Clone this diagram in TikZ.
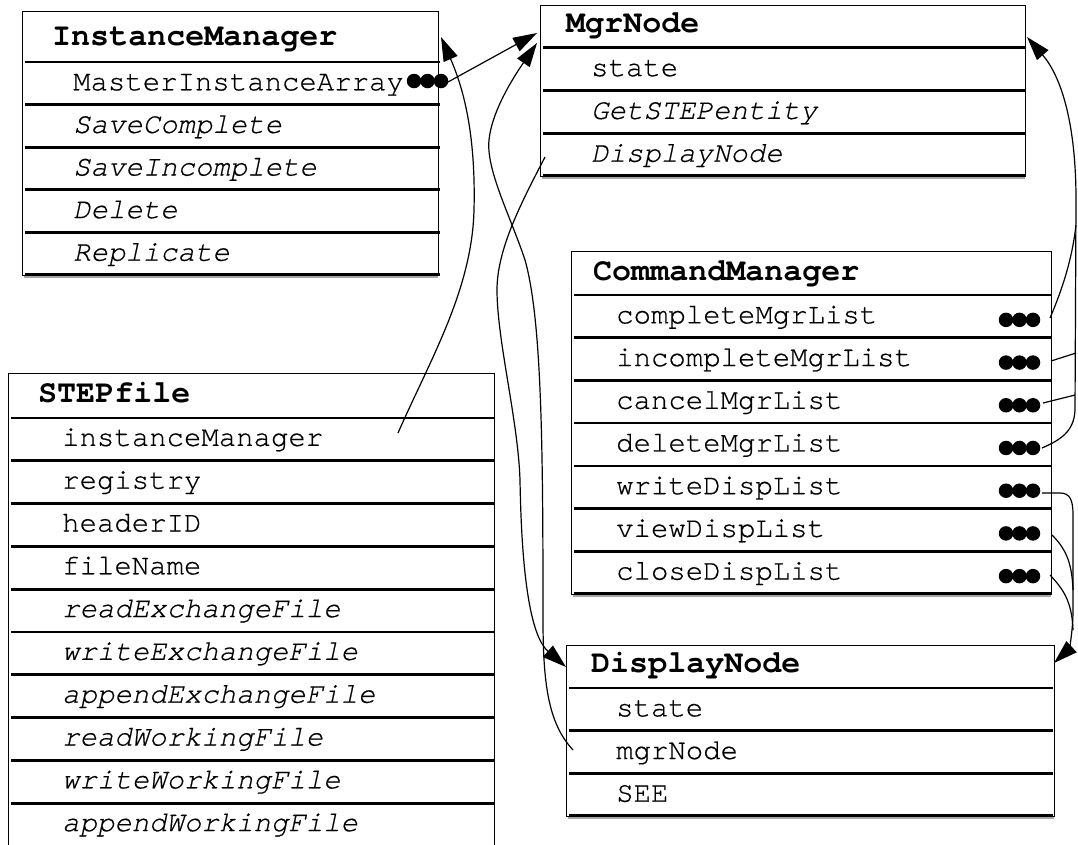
\documentclass[tikz,border=0pt]{standalone}
\usepackage{fontspec}
\newfontfamily\courrow{TeX Gyre Cursor}[Ligatures=NoCommon,FakeBold=0.5]
\newfontfamily\courhdr{TeX Gyre Cursor}[Ligatures=NoCommon]
\usetikzlibrary{arrows.meta}
\begin{document}
\begin{tikzpicture}[x=1pt,y=-1pt,
  outline/.style={draw=black, line width=1.4pt, rectangle, anchor=north west, inner sep=0pt},
  sepline/.style={line width=2.7pt},
  shadowline/.style={draw=gray!70, line width=1.6pt},
  conn/.style={line width=1.2pt},
  arr/.style={conn, -{Triangle[length=24pt,width=15pt]}},
  rowtxt/.style={font=\fontsize{29}{30}\selectfont\courrow, anchor=base west, inner sep=0pt},
  itxt/.style={font=\fontsize{29}{30}\selectfont\courrow\itshape, anchor=base west, inner sep=0pt},
  hdr/.style={font=\fontsize{31.7}{33}\selectfont\courhdr\bfseries, anchor=base west, inner sep=0pt},
  dotc/.style={fill=black, circle, inner sep=0pt, minimum size=14.5pt}
]
\useasboundingbox (0,0) rectangle (1078,844);
\clip (0,0) rectangle (1078,844);
\fill[white] (0,0) rectangle (1078,844);

% ---------- InstanceManager ----------
\node[outline, minimum width=416pt, minimum height=264pt] (IM) at (22,11) {};
\draw[shadowline] (24,276.8) -- (438,276.8);
\foreach \yy in {62,104.6,147.2,189.8,232.4,274.5} \draw[sepline] (25,\yy) -- (440,\yy);
\node[hdr] (IMh) at (52,45) {InstanceManager};
\node[rowtxt] (IM1) at (73,{62+0.5*42.6+7}) {MasterInstanceArray};
\foreach \t [count=\i from 2] in {SaveComplete,SaveIncomplete,Delete,Replicate}
  \node[itxt] (IM\i) at (73,{62+(\i-0.5)*42.6+7}) {\t};
\foreach \xx [count=\k] in {414,427.5,441} \node[dotc] (imd\k) at (\xx,81) {};

% ---------- MgrNode ----------
\node[outline, minimum width=485pt, minimum height=171pt] (MN) at (540,5) {};
\draw[shadowline] (542,177.8) -- (1025,177.8);
\foreach \yy in {47.7,90.5,133.3,175.5} \draw[sepline] (543,\yy) -- (1026,\yy);
\node[hdr] (MNh) at (566,32) {MgrNode};
\node[rowtxt] (MN1) at (591,{47.7+0.5*42.8+7}) {state};
\node[itxt] (MN2) at (591,{47.7+1.5*42.8+7}) {GetSTEPentity};
\node[itxt] (MN3) at (591,{47.7+2.5*42.8+7}) {DisplayNode};

% ---------- CommandManager ----------
\node[outline, minimum width=480pt, minimum height=343pt] (CM) at (571,251) {};
\draw[shadowline] (573,595.8) -- (1051,595.8);
\foreach \yy in {295,337.7,380.4,423.1,465.9,508.6,551.3,593.5} \draw[sepline] (574,\yy) -- (1052,\yy);
\node[hdr] (CMh) at (593,280) {CommandManager};
\foreach \t [count=\i] in {completeMgrList,incompleteMgrList,cancelMgrList,deleteMgrList,writeDispList,viewDispList,closeDispList}{
  \node[rowtxt] (CM\i) at (616,{295+(\i-0.5)*42.71+7}) {\t};
  \foreach \xx [count=\k] in {1006,1019.5,1033}
    \node[dotc] (cmd\i\k) at (\xx,{295+(\i-0.5)*42.71+3.5}) {};
}

% ---------- DisplayNode ----------
\node[outline, minimum width=488pt, minimum height=171pt] (DN) at (566,645) {};
\draw[shadowline] (568,817.8) -- (1054,817.8);
\foreach \yy in {688,730.7,773.3,815.5} \draw[sepline] (569,\yy) -- (1053,\yy);
\node[hdr] (DNh) at (591,672) {DisplayNode};
\foreach \t [count=\i] in {state,mgrNode,SEE}
  \node[rowtxt] (DN\i) at (616,{688+(\i-0.5)*42.67+7}) {\t};

% ---------- STEPfile ----------
\node[outline, minimum width=486pt, minimum height=473pt] (SF) at (8,373) {};
\foreach \k in {0,...,9} \draw[sepline] (11,{418+\k*42.8}) -- (495,{418+\k*42.8});
\node[hdr] (SFh) at (38,402) {STEPfile};
\foreach \t [count=\i] in {instanceManager,registry,headerID,fileName}
  \node[rowtxt] (SF\i) at (62,{418+(\i-0.5)*42.8+6.5}) {\t};
\foreach \t [count=\i from 5] in {readExchangeFile,writeExchangeFile,appendExchangeFile,readWorkingFile,writeWorkingFile,appendWorkingFile}
  \node[itxt] (SF\i) at (62,{418+(\i-0.5)*42.8+6.5}) {\t};

% ---------- connector end points ----------
\coordinate (imDots) at (448,82);
\coordinate (mgrInA) at (537,33);
\coordinate (mgrInB) at (537,43);
\coordinate (imIn) at (441,37);
\coordinate (sfIM) at (398,433);
\coordinate (mgrDisp) at (545,157);
\coordinate (dnInL) at (566,667);
\coordinate (dnMgr) at (573,750);
\coordinate (mgrInR) at (1027,37);
\coordinate (dnInR) at (1054,663);
\coordinate (cm1) at (1050,318);
\coordinate (cm2) at (1051,361);
\coordinate (cm3) at (1043,403);
\coordinate (cm4) at (1042,448);
\coordinate (cm5) at (1042,493);
\coordinate (cm6) at (1052,535);
\coordinate (cm7) at (1050,575);

% ---------- connectors ----------
\draw[arr] (imDots) -- (mgrInA);
\draw[arr] (sfIM) .. controls (430,360) and (472,290) .. (474,210)
  .. controls (476,130) and (462,85) .. (imIn);
\draw[arr] (mgrDisp) .. controls (520,205) and (497,250) .. (497,290)
  .. controls (497,340) and (518,420) .. (520,480)
  .. controls (522,600) and (535,640) .. (dnInL);
\draw[arr] (dnMgr) .. controls (550,725) and (543,690) .. (543,620)
  .. controls (543,450) and (542,320) .. (525,260)
  .. controls (510,215) and (486,170) .. (489,140)
  .. controls (492,110) and (515,75) .. (mgrInB);

\draw[arr] (cm4) .. controls (1060,440) and (1074,432) .. (1075,410) -- (1076,200)
  .. controls (1076,120) and (1060,75) .. (mgrInR);
\draw[conn] (cm1) .. controls (1062,290) and (1072,260) .. (1076,225);
\draw[conn] (cm2) -- (1076,353);
\draw[conn] (cm3) -- (1075,395);

\draw[arr] (cm5) -- (1060,493) .. controls (1070,493) and (1073,500) .. (1073,515) -- (1073,610)
  .. controls (1073,635) and (1068,650) .. (dnInR);
\draw[conn] (cm6) .. controls (1064,547) and (1072,560) .. (1073,590);
\draw[conn] (cm7) .. controls (1062,588) and (1072,600) .. (1073,630);
\end{tikzpicture}
\end{document}
